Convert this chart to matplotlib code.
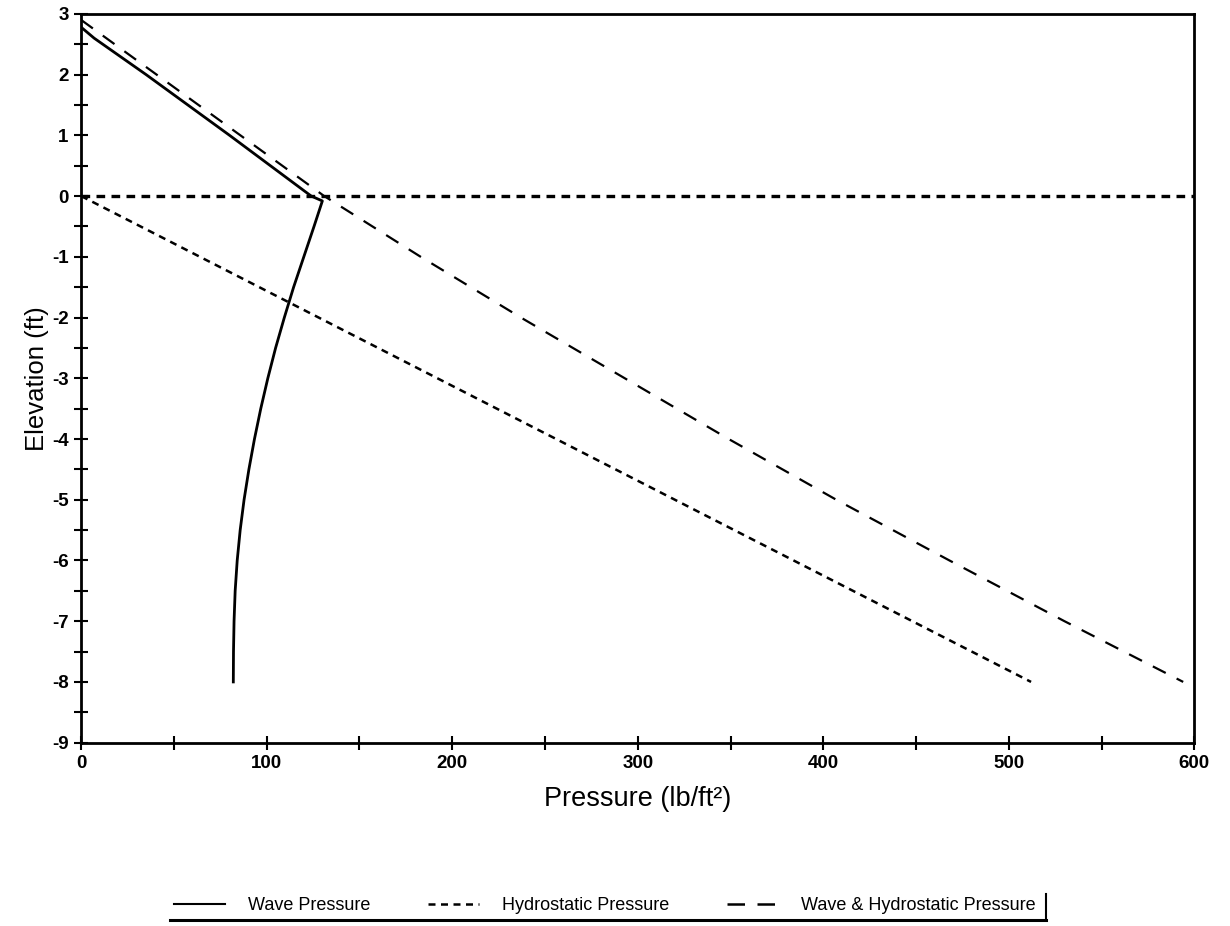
import matplotlib.pyplot as plt
from matplotlib.lines import Line2D
from matplotlib.ticker import MultipleLocator

plt.rcParams["font.family"] = ["Liberation Sans", "DejaVu Sans"]
plt.rcParams["axes.unicode_minus"] = False

# wave pressure (solid): elevation (ft) vs pressure (lb/ft^2)
wave_elev = [2.78, 2.6, 2.0, 1.0, 0.0, -0.08, -0.5, -1.0, -1.5, -2.0, -2.5,
             -3.0, -3.5, -4.0, -4.5, -5.0, -5.5, -6.0, -6.5, -7.0, -7.5, -8.0]
wave_p = [0, 7, 35, 80, 124, 130, 125.5, 120, 114.5, 109.5, 104.8,
          100.6, 96.8, 93.4, 90.4, 87.8, 85.7, 84.1, 83.0, 82.4, 82.1, 82]

# hydrostatic pressure (short dash)
hydro_elev = [0.0, -8.0]
hydro_p = [0, 512]

# wave & hydrostatic pressure (long dash)
combo_elev = [2.9, 0.0, -1.0, -2.0, -3.0, -4.0, -5.0, -6.0, -7.0, -8.0]
combo_p = [0, 131, 183, 237, 293, 349, 407, 468, 530, 594]

# still water level
swl = 0.0

fig = plt.figure(figsize=(12.3, 9.26), dpi=100)
ax = fig.add_axes([0.066, 0.198, 0.905, 0.787])

ax.plot(wave_p, wave_elev, color="black", lw=2.0, label="Wave Pressure")
ax.plot(hydro_p, hydro_elev, color="black", lw=1.8, linestyle=(0, (2.8, 2.2)),
        label="Hydrostatic Pressure")
ax.plot(combo_p, combo_elev, color="black", lw=1.6, linestyle=(0, (6.5, 5.5)),
        label="Wave & Hydrostatic Pressure")
ax.axhline(swl, color="black", lw=2.4, linestyle=(0, (2.6, 1.9)))

ax.set_xlim(0, 600)
ax.set_ylim(-9, 3)
ax.xaxis.set_major_locator(MultipleLocator(100))
ax.xaxis.set_minor_locator(MultipleLocator(50))
ax.yaxis.set_major_locator(MultipleLocator(1))
ax.yaxis.set_minor_locator(MultipleLocator(0.5))
ax.tick_params(which="both", direction="inout", length=10, width=1.5,
               top=False, right=False, labelsize=13.5, pad=4)
for lab in ax.get_xticklabels() + ax.get_yticklabels():
    lab.set_fontweight("bold")
for s in ax.spines.values():
    s.set_linewidth(2)

ax.set_xlabel("Pressure (lb/ft²)", fontsize=19.5, labelpad=10)
ax.set_ylabel("Elevation (ft)", fontsize=18.5, labelpad=2)

handles = [
    Line2D([], [], color="black", lw=1.5),
    Line2D([], [], color="black", lw=1.8, linestyle=(0, (2.8, 2.2))),
    Line2D([], [], color="black", lw=1.8, linestyle=(0, (7, 5))),
]
labels = ["Wave Pressure", "Hydrostatic Pressure", "Wave & Hydrostatic Pressure"]
fig.legend(handles, labels, loc="center", bbox_to_anchor=(0.492, 0.022), ncol=3,
           frameon=False, fontsize=13, handlelength=2.8, handletextpad=1.3,
           columnspacing=3.2)

# partial legend frame: underline and right edge
fig.add_artist(Line2D([0.138, 0.85], [0.006, 0.006], color="black", lw=2.2,
                      transform=fig.transFigure))
fig.add_artist(Line2D([0.85, 0.85], [0.006, 0.035], color="black", lw=1.5,
                      transform=fig.transFigure))

fig.savefig("out.png", dpi=100)
